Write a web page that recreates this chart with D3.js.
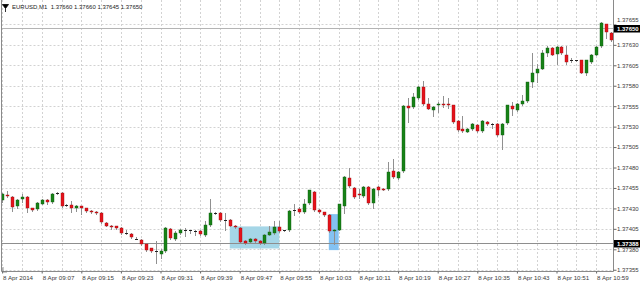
<!DOCTYPE html>
<html>
<head>
<meta charset="utf-8">
<script src="https://cdn.jsdelivr.net/npm/d3@7"></script>
<style>
  body { margin: 0; background: #fff; }
  svg { display: block; }
</style>
</head>
<body>
<div id="chart"></div>
<script>
// EURUSD M1, 8 Apr 2014, bars from 08:59 to 11:02 (index 0 = 08:59)
var symbolTitle = "EURUSD,M1  1.37660 1.37660 1.37645 1.37650";

var opens = [
  1.37440, 1.37447, 1.37444, 1.37433, 1.37441, 1.37444, 1.37430, 1.37429, 1.37436, 1.37440,
  1.37438, 1.37449, 1.37449, 1.37434, 1.37434, 1.37430, 1.37433, 1.37430, 1.37427, 1.37426,
  1.37424, 1.37412, 1.37409, 1.37408, 1.37406, 1.37400, 1.37399, 1.37393, 1.37391, 1.37387,
  1.37381, 1.37378, 1.37374, 1.37378, 1.37405, 1.37393, 1.37400, 1.37404, 1.37403, 1.37402,
  1.37402, 1.37398, 1.37410, 1.37424, 1.37424, 1.37416, 1.37416, 1.37409, 1.37406, 1.37390,
  1.37389, 1.37393, 1.37390, 1.37388, 1.37398, 1.37400, 1.37407, 1.37403, 1.37403, 1.37428,
  1.37429, 1.37425, 1.37437, 1.37450, 1.37428, 1.37425, 1.37422, 1.37402, 1.37404, 1.37433,
  1.37467, 1.37455, 1.37448, 1.37445, 1.37456, 1.37437, 1.37456, 1.37454, 1.37454, 1.37476,
  1.37467, 1.37476, 1.37555, 1.37554, 1.37565, 1.37578, 1.37558, 1.37550, 1.37556, 1.37558,
  1.37558, 1.37556, 1.37537, 1.37527, 1.37524, 1.37527, 1.37532, 1.37525, 1.37536, 1.37533,
  1.37533, 1.37520, 1.37535, 1.37555, 1.37550, 1.37558, 1.37561, 1.37585, 1.37596, 1.37601,
  1.37620, 1.37626, 1.37619, 1.37627, 1.37618, 1.37611, 1.37611, 1.37611, 1.37595, 1.37609,
  1.37618, 1.37628, 1.37655, 1.37645
];
var highs = [
  1.37449, 1.37451, 1.37445, 1.37441, 1.37448, 1.37445, 1.37431, 1.37438, 1.37441, 1.37442,
  1.37449, 1.37450, 1.37450, 1.37436, 1.37439, 1.37434, 1.37433, 1.37431, 1.37428, 1.37427,
  1.37425, 1.37413, 1.37410, 1.37409, 1.37407, 1.37403, 1.37400, 1.37395, 1.37392, 1.37388,
  1.37382, 1.37390, 1.37380, 1.37407, 1.37406, 1.37402, 1.37405, 1.37406, 1.37404, 1.37404,
  1.37403, 1.37414, 1.37442, 1.37425, 1.37425, 1.37424, 1.37417, 1.37410, 1.37407, 1.37391,
  1.37394, 1.37394, 1.37391, 1.37399, 1.37408, 1.37414, 1.37414, 1.37404, 1.37428, 1.37436,
  1.37432, 1.37442, 1.37453, 1.37451, 1.37429, 1.37426, 1.37423, 1.37405, 1.37436, 1.37470,
  1.37480, 1.37456, 1.37454, 1.37457, 1.37457, 1.37455, 1.37457, 1.37455, 1.37487, 1.37491,
  1.37476, 1.37556, 1.37565, 1.37571, 1.37580, 1.37586, 1.37565, 1.37555, 1.37560, 1.37567,
  1.37565, 1.37557, 1.37538, 1.37543, 1.37528, 1.37535, 1.37533, 1.37538, 1.37537, 1.37534,
  1.37534, 1.37534, 1.37557, 1.37560, 1.37559, 1.37569, 1.37585, 1.37620, 1.37607, 1.37624,
  1.37628, 1.37627, 1.37628, 1.37628, 1.37628, 1.37614, 1.37612, 1.37612, 1.37612, 1.37619,
  1.37628, 1.37658, 1.37656, 1.37646
];
var lows = [
  1.37438, 1.37444, 1.37427, 1.37431, 1.37438, 1.37425, 1.37427, 1.37428, 1.37435, 1.37436,
  1.37437, 1.37448, 1.37432, 1.37433, 1.37425, 1.37427, 1.37423, 1.37426, 1.37424, 1.37423,
  1.37412, 1.37408, 1.37405, 1.37405, 1.37399, 1.37399, 1.37394, 1.37392, 1.37385, 1.37378,
  1.37377, 1.37363, 1.37369, 1.37377, 1.37393, 1.37391, 1.37399, 1.37396, 1.37400, 1.37398,
  1.37398, 1.37396, 1.37409, 1.37423, 1.37415, 1.37404, 1.37408, 1.37406, 1.37388, 1.37387,
  1.37388, 1.37389, 1.37387, 1.37387, 1.37397, 1.37399, 1.37401, 1.37402, 1.37402, 1.37422,
  1.37424, 1.37424, 1.37436, 1.37427, 1.37424, 1.37421, 1.37401, 1.37387, 1.37403, 1.37424,
  1.37456, 1.37443, 1.37443, 1.37444, 1.37436, 1.37431, 1.37446, 1.37452, 1.37453, 1.37467,
  1.37466, 1.37475, 1.37536, 1.37553, 1.37564, 1.37557, 1.37551, 1.37543, 1.37548, 1.37554,
  1.37553, 1.37535, 1.37525, 1.37524, 1.37523, 1.37526, 1.37524, 1.37524, 1.37532, 1.37528,
  1.37519, 1.37503, 1.37533, 1.37544, 1.37549, 1.37557, 1.37560, 1.37579, 1.37585, 1.37600,
  1.37616, 1.37617, 1.37607, 1.37619, 1.37607, 1.37609, 1.37610, 1.37595, 1.37593, 1.37608,
  1.37617, 1.37627, 1.37638, 1.37635
];
var closes = [
  1.37448, 1.37445, 1.37432, 1.37440, 1.37444, 1.37430, 1.37428, 1.37437, 1.37440, 1.37438,
  1.37448, 1.37449, 1.37433, 1.37434, 1.37430, 1.37433, 1.37431, 1.37427, 1.37425, 1.37424,
  1.37413, 1.37409, 1.37407, 1.37406, 1.37400, 1.37400, 1.37395, 1.37393, 1.37386, 1.37379,
  1.37378, 1.37378, 1.37378, 1.37406, 1.37394, 1.37400, 1.37404, 1.37404, 1.37403, 1.37402,
  1.37399, 1.37410, 1.37424, 1.37424, 1.37416, 1.37416, 1.37409, 1.37407, 1.37389, 1.37388,
  1.37393, 1.37390, 1.37388, 1.37398, 1.37401, 1.37407, 1.37402, 1.37403, 1.37427, 1.37428,
  1.37426, 1.37436, 1.37452, 1.37428, 1.37425, 1.37422, 1.37402, 1.37404, 1.37435, 1.37469,
  1.37457, 1.37444, 1.37446, 1.37456, 1.37437, 1.37454, 1.37452, 1.37453, 1.37474, 1.37468,
  1.37475, 1.37555, 1.37553, 1.37566, 1.37579, 1.37558, 1.37552, 1.37554, 1.37558, 1.37556,
  1.37556, 1.37536, 1.37526, 1.37525, 1.37527, 1.37533, 1.37525, 1.37537, 1.37533, 1.37533,
  1.37520, 1.37533, 1.37556, 1.37552, 1.37558, 1.37561, 1.37584, 1.37596, 1.37601, 1.37620,
  1.37626, 1.37618, 1.37627, 1.37620, 1.37609, 1.37611, 1.37611, 1.37596, 1.37611, 1.37618,
  1.37627, 1.37657, 1.37646, 1.37636
];

var timeTicks = [0, 8, 16, 24, 32, 40, 48, 56, 64, 72, 80, 88, 96, 104, 112, 120];
var timeLabels = ["8 Apr 2014", "8 Apr 09:07", "8 Apr 09:15", "8 Apr 09:23", "8 Apr 09:31",
  "8 Apr 09:39", "8 Apr 09:47", "8 Apr 09:55", "8 Apr 10:03", "8 Apr 10:11", "8 Apr 10:19",
  "8 Apr 10:27", "8 Apr 10:35", "8 Apr 10:43", "8 Apr 10:51", "8 Apr 10:59"];
var priceTicks = [1.37355, 1.37380, 1.37405, 1.37430, 1.37455, 1.37480, 1.37505,
  1.37530, 1.37555, 1.37580, 1.37605, 1.37630, 1.37655];

var bidPrice = 1.37650;
var levelPrice = 1.37388;

// the two rectangle objects, in bar index / price
var boxFrom = [46, 66];
var boxTo = [56, 68];
var boxTop = [1.37408, 1.37423];
var boxBottom = [1.37381, 1.37379];

var width = 640, height = 282;
var plotRight = 613.5, plotBottom = 271.5;
var boxColours = ["#a5d6e7", "#84c2f2"];
var upColour = "#178217", downColour = "#e5121b";
var fontFamily = "'Liberation Sans', Arial, sans-serif";

var x = d3.scaleLinear().domain([0, 120]).range([2.1, 596.1]);
var y = d3.scaleLinear().domain([1.37380, 1.37630]).range([249.3, 44.85]);

var svg = d3.select("#chart").append("svg")
    .attr("width", width)
    .attr("height", height);

svg.append("rect").attr("width", width).attr("height", height).attr("fill", "#fff");

svg.append("defs").append("clipPath").attr("id", "plot")
  .append("rect").attr("x", 1.5).attr("y", 0).attr("width", plotRight - 1.5).attr("height", plotBottom);

var plot = svg.append("g").attr("clip-path", "url(#plot)");

// grid
var gridColour = "#d2d2d2";
plot.append("g").selectAll("line").data(d3.range(0, 124, 4)).enter().append("line")
    .attr("x1", function(d) { return Math.round(x(d)) + 0.5; })
    .attr("x2", function(d) { return Math.round(x(d)) + 0.5; })
    .attr("y1", 0).attr("y2", plotBottom)
    .attr("stroke", gridColour).attr("stroke-dasharray", "2,2");

plot.append("g").selectAll("line").data(priceTicks).enter().append("line")
    .attr("x1", 1.5).attr("x2", plotRight)
    .attr("y1", function(d) { return Math.round(y(d)) + 0.5; })
    .attr("y2", function(d) { return Math.round(y(d)) + 0.5; })
    .attr("stroke", gridColour).attr("stroke-dasharray", "2,2");

// rectangles
plot.append("g").selectAll("rect").data(boxFrom).enter().append("rect")
    .attr("x", function(d) { return x(d); })
    .attr("width", function(d, i) { return x(boxTo[i]) - x(d); })
    .attr("y", function(d, i) { return y(boxTop[i]); })
    .attr("height", function(d, i) { return y(boxBottom[i]) - y(boxTop[i]); })
    .attr("fill", function(d, i) { return boxColours[i]; });

// horizontal lines
plot.append("line")
    .attr("x1", 1.5).attr("x2", plotRight)
    .attr("y1", Math.round(y(levelPrice)) + 0.5).attr("y2", Math.round(y(levelPrice)) + 0.5)
    .attr("stroke", "#8e8e8e");
plot.append("line")
    .attr("x1", 1.5).attr("x2", plotRight)
    .attr("y1", Math.round(y(bidPrice)) + 0.5).attr("y2", Math.round(y(bidPrice)) + 0.5)
    .attr("stroke", "#b4b4b4");

// candles
var bars = d3.range(opens.length);
var candle = plot.append("g").selectAll("g").data(bars).enter().append("g");

candle.append("line")
    .attr("x1", function(i) { return Math.round(x(i)) + 0.5; })
    .attr("x2", function(i) { return Math.round(x(i)) + 0.5; })
    .attr("y1", function(i) { return Math.round(y(highs[i])); })
    .attr("y2", function(i) { return Math.round(y(lows[i])) + 1; })
    .attr("stroke", "#909090");

candle.append("rect")
    .attr("x", function(i) { return Math.round(x(i)) - 1; })
    .attr("width", 3)
    .attr("y", function(i) { return Math.round(y(Math.max(opens[i], closes[i]))); })
    .attr("height", function(i) {
      var h = Math.round(y(Math.min(opens[i], closes[i]))) - Math.round(y(Math.max(opens[i], closes[i])));
      return Math.max(1, h);
    })
    .attr("fill", function(i) {
      if (opens[i] === closes[i]) return "#222";
      return closes[i] > opens[i] ? upColour : downColour;
    })
    .attr("stroke", function(i) {
      if (opens[i] === closes[i]) return "none";
      return closes[i] > opens[i] ? "#0d5a0d" : "#9a1010";
    })
    .attr("stroke-width", 0.4);

// frame
svg.append("path")
    .attr("d", "M1.5,0V" + plotBottom + "H" + plotRight + "V0")
    .attr("fill", "none").attr("stroke", "#8a8a8a");

// price axis
var yAxis = svg.append("g")
    .attr("transform", "translate(" + plotRight + ",0)")
    .call(d3.axisRight(y).tickValues(priceTicks).tickSize(3).tickFormat(d3.format(".5f")));
yAxis.select(".domain").remove();
yAxis.selectAll(".tick line").attr("stroke", "#666");
yAxis.selectAll(".tick text")
    .attr("x", 3.5)
    .attr("fill", "#3a3a3a")
    .style("font-family", fontFamily)
    .style("font-size", "6px");
// the top label sits just above the bid tag, as in the terminal
yAxis.selectAll(".tick text")
    .filter(function(d) { return d === priceTicks[priceTicks.length - 1]; })
    .attr("y", -4.5);

// time axis
var xAxis = svg.append("g")
    .attr("transform", "translate(0," + plotBottom + ")")
    .call(d3.axisBottom(x).tickValues(timeTicks).tickSize(2)
      .tickFormat(function(d, i) { return timeLabels[i]; }));
xAxis.select(".domain").remove();
xAxis.selectAll(".tick line").attr("stroke", "#666");
xAxis.selectAll(".tick text")
    .attr("text-anchor", "start")
    .attr("x", 0.5)
    .attr("y", 8.8)
    .attr("dy", 0)
    .attr("fill", "#3a3a3a")
    .style("font-family", fontFamily)
    .style("font-size", "6.2px");

// price tags for bid and level lines
var tags = [bidPrice, levelPrice];
var tag = svg.append("g").selectAll("g").data(tags).enter().append("g")
    .attr("transform", function(d) { return "translate(" + (plotRight + 0.5) + "," + (Math.round(y(d)) + 0.5) + ")"; });
tag.append("rect").attr("x", 0).attr("y", -3.5).attr("width", width - plotRight).attr("height", 7.5).attr("fill", "#000");
tag.append("text")
    .attr("x", 3).attr("dy", "0.34em")
    .attr("fill", "#fff")
    .style("font-family", fontFamily)
    .style("font-size", "6px")
    .style("font-weight", "bold")
    .text(function(d) { return d3.format(".5f")(d); });

// title and corner markers
svg.append("text")
    .attr("x", 12).attr("y", 9.2)
    .attr("fill", "#222")
    .style("font-family", fontFamily)
    .style("font-size", "6px")
    .style("white-space", "pre")
    .text(symbolTitle);
svg.append("path")
    .attr("d", "M2.5,4.5L8.5,4.5L5.5,8.5Z M5.5,8.5V12")
    .attr("fill", "#000").attr("stroke", "#000").attr("stroke-width", 0.8);
svg.append("path")
    .attr("d", "M3,267V272H7")
    .attr("fill", "none").attr("stroke", "#777").attr("stroke-width", 0.8);
</script>
</body>
</html>
